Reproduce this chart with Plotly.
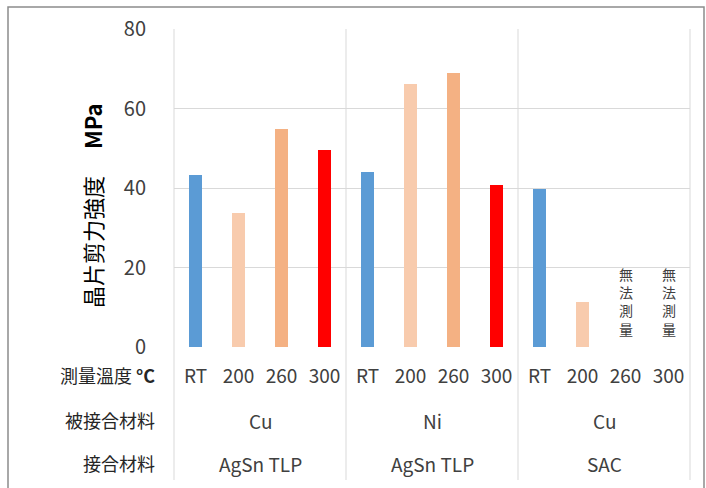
import plotly.graph_objects as go

# ---- data ----
temps = ["RT", "200", "260", "300"]
substrates = ["Cu", "Ni", "Cu"]
bond_materials = ["AgSn TLP", "AgSn TLP", "SAC"]
rt_vals = [43.3, 44.0, 39.7]
t200_vals = [33.7, 66.2, 11.3]
t260_vals = [54.8, 69.0, None]
t300_vals = [49.6, 40.8, None]
series_colors = ["#5B9BD5", "#F8CBAD", "#F4B183", "#FF0000"]
row_headers = ["測量溫度 <b>°C</b>", "被接合材料", "接合材料"]
y_title = "晶片剪力強度　 <b>MPa</b>"
no_measure_text = "無<br>法<br>測<br>量"
y_ticks = [0, 20, 40, 60, 80]

W, H = 706, 488
L, R, T, B = 174, 16, 29, 141
pw, ph = W - L - R, H - T - B

def px_x(px):
    return (px - L) / pw

def px_y(py):
    return (H - B - py) / ph

ng = len(substrates)
nt = len(temps)
font_jp = "Noto Sans CJK JP"

fig = go.Figure()
all_series = [rt_vals, t200_vals, t260_vals, t300_vals]
for ti, vals in enumerate(all_series):
    xs = [g * nt + ti for g in range(ng)]
    fig.add_trace(go.Bar(x=xs, y=vals, name=temps[ti], width=0.3,
                         marker=dict(color=series_colors[ti], line=dict(width=0)),
                         showlegend=False))

shapes = []
# vertical separators (group boundaries)
for g in range(ng + 1):
    xp = g / ng
    shapes.append(dict(type="line", xref="paper", yref="paper", x0=xp, x1=xp,
                       y0=px_y(480), y1=1, line=dict(color="#D9D9D9", width=1), layer="below"))
# outer border
shapes.append(dict(type="rect", xref="paper", yref="paper",
                   x0=px_x(8), x1=px_x(704), y0=px_y(492), y1=px_y(7),
                   line=dict(color="#8C8C8C", width=1.5)))

annotations = []
row_y = [375, 420, 463]
for i, h in enumerate(row_headers):
    annotations.append(dict(x=px_x(157), y=px_y(row_y[i]), xref="paper", yref="paper",
                            text=h, showarrow=False, xanchor="right", yanchor="middle",
                            font=dict(family=font_jp, size=18, color="#262626")))
for g in range(ng):
    cx = g * nt + (nt - 1) / 2
    annotations.append(dict(x=cx, y=px_y(420), xref="x", yref="paper", text=substrates[g],
                            showarrow=False, xanchor="center", yanchor="middle",
                            font=dict(family=font_jp, size=19, color="#404040")))
    annotations.append(dict(x=cx, y=px_y(463), xref="x", yref="paper", text=bond_materials[g],
                            showarrow=False, xanchor="center", yanchor="middle",
                            font=dict(family=font_jp, size=19, color="#404040")))
# "no measurement" notes for missing values
for ti, vals in enumerate(all_series):
    for g in range(ng):
        if vals[g] is None:
            annotations.append(dict(x=g * nt + ti, y=px_y(301), xref="x", yref="paper",
                                    text=no_measure_text, showarrow=False,
                                    xanchor="center", yanchor="middle",
                                    font=dict(family=font_jp, size=14, color="#404040")))
annotations.append(dict(x=px_x(92), y=px_y(206), xref="paper", yref="paper", text=y_title,
                        textangle=-90, showarrow=False, xanchor="center", yanchor="middle",
                        font=dict(family=font_jp, size=22, color="#000000")))

fig.update_layout(
    width=W, height=H,
    margin=dict(l=L, r=R, t=T, b=B, pad=0),
    paper_bgcolor="white", plot_bgcolor="white",
    bargap=0,
    shapes=shapes, annotations=annotations,
    xaxis=dict(range=[-0.5, ng * nt - 0.5], tickvals=list(range(ng * nt)),
               ticktext=temps * ng, showgrid=False, zeroline=False, showline=False,
               ticks="", ticklabelstandoff=16,
               tickfont=dict(family=font_jp, size=19, color="#404040")),
    yaxis=dict(range=[0, 80], tickvals=y_ticks, showgrid=True, gridcolor="#D9D9D9",
               gridwidth=1, zeroline=False, showline=False, ticks="",
               ticklabelstandoff=27,
               tickfont=dict(family=font_jp, size=20, color="#404040")),
)

fig.write_html("out.html", config={"displayModeBar": False},
               post_script="document.body.style.margin='0';document.body.style.overflow='hidden';")
